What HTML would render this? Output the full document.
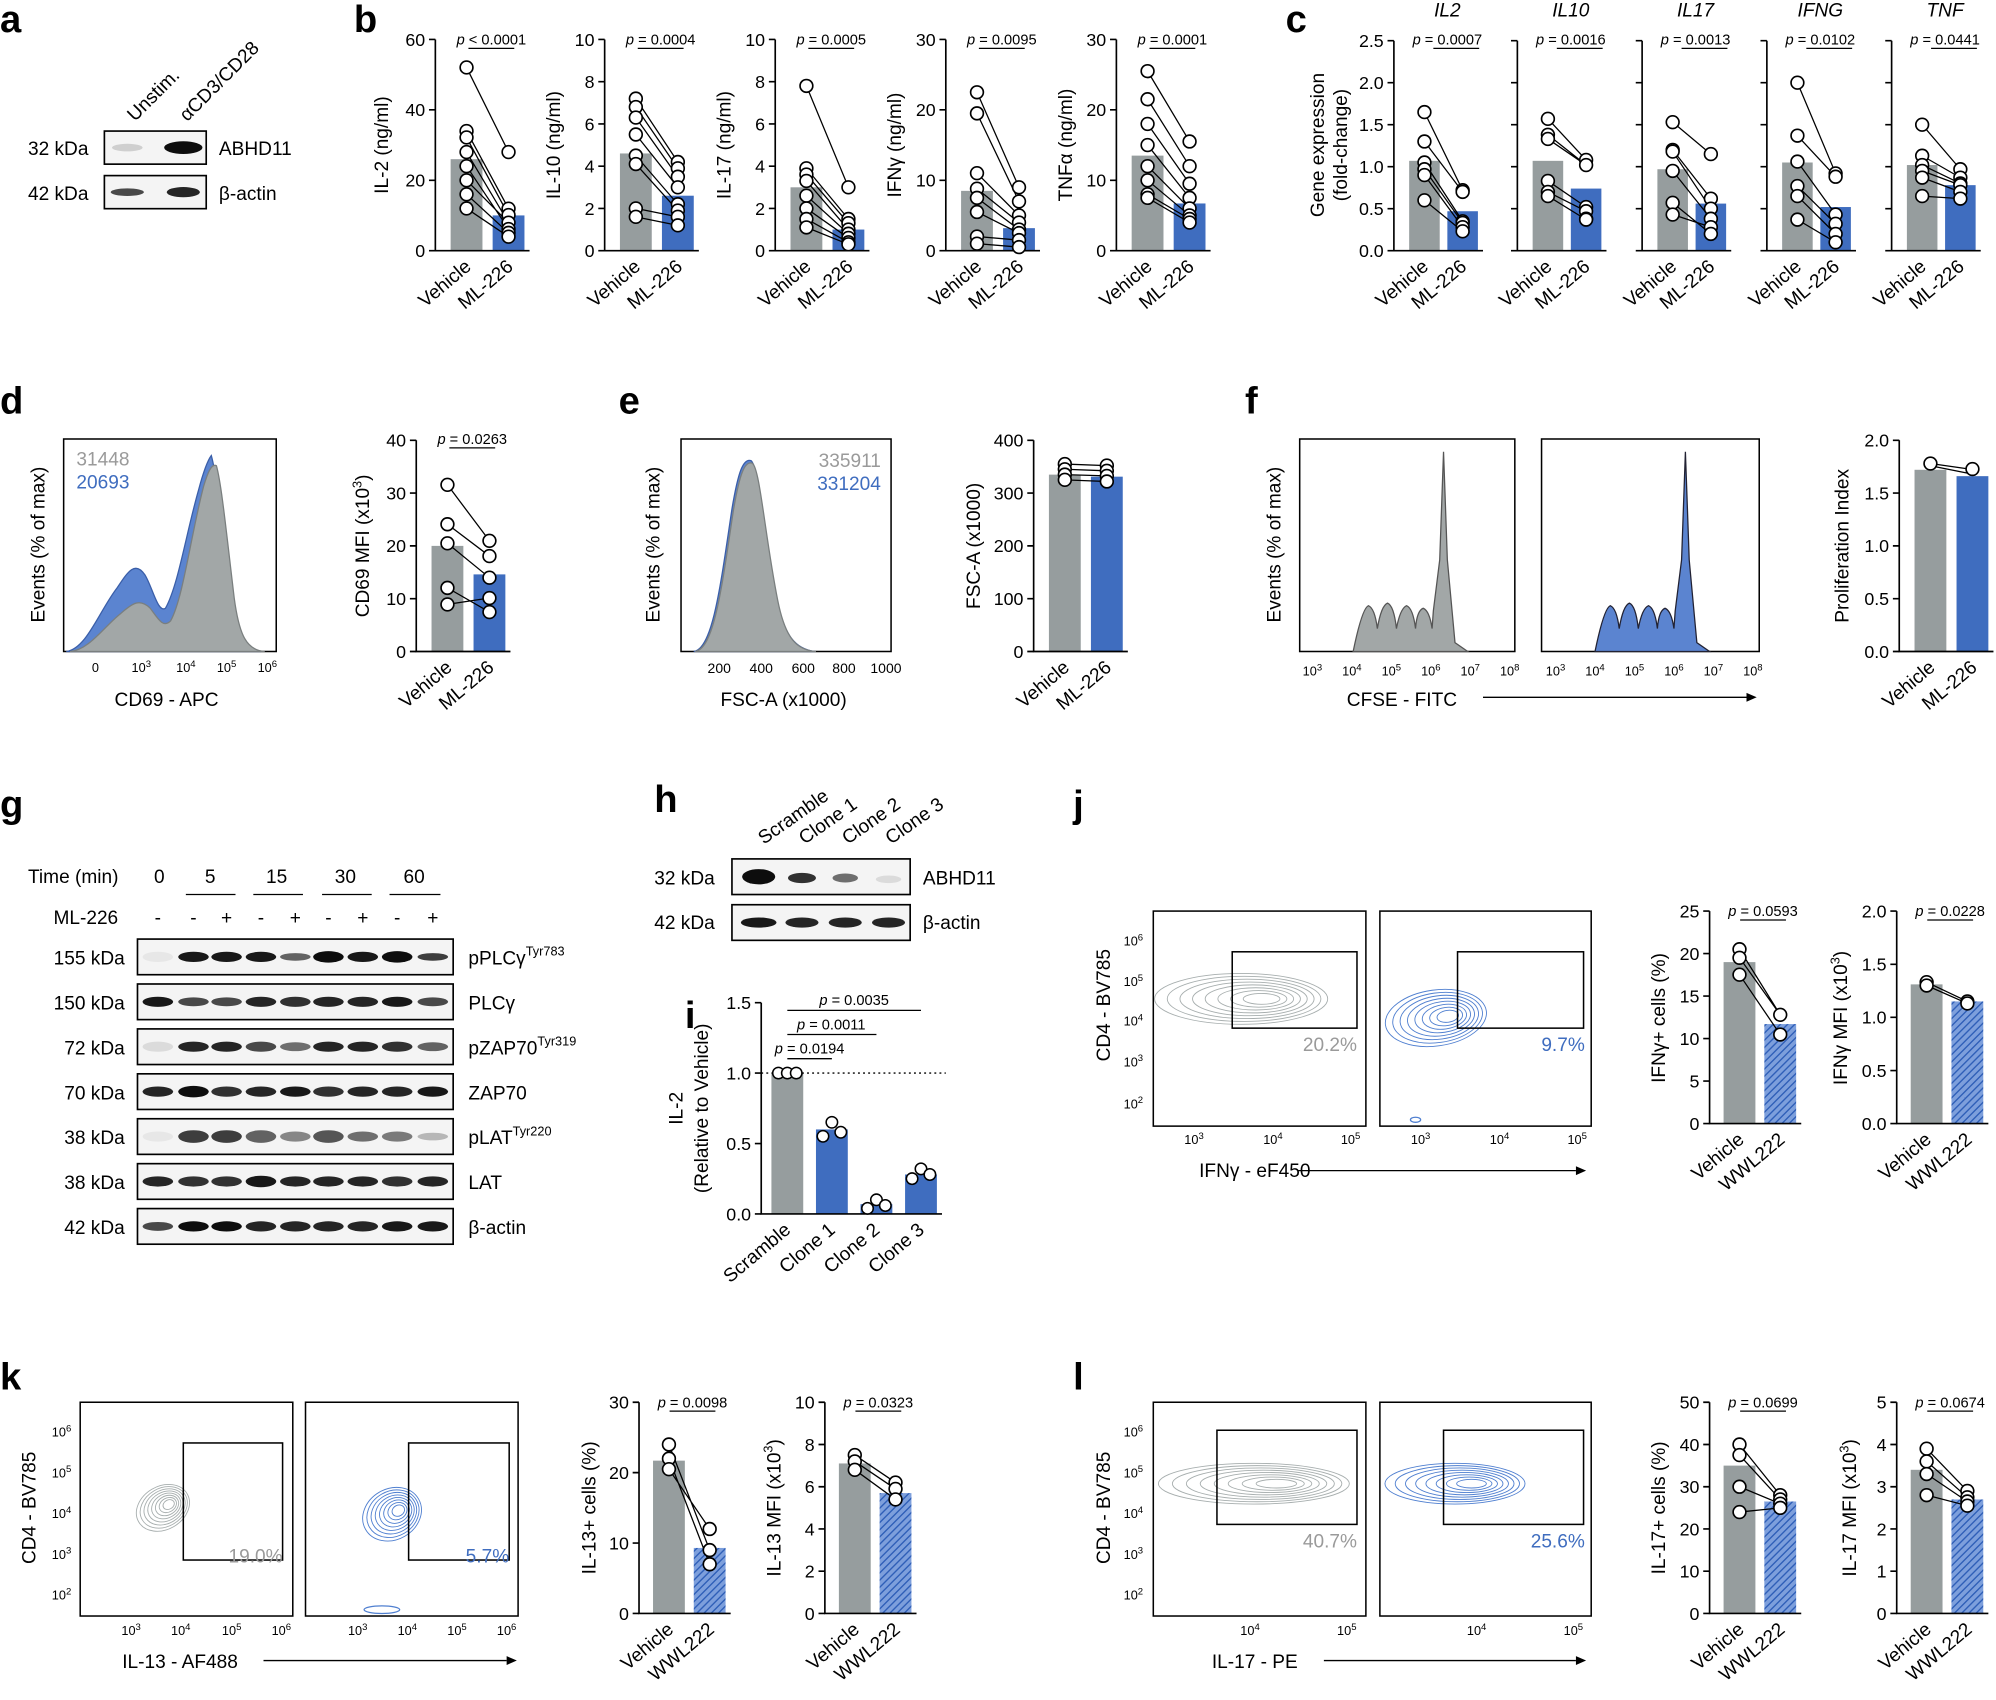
<!DOCTYPE html>
<html><head><meta charset="utf-8"><style>
html,body{margin:0;padding:0;background:#fff;}
svg{display:block;font-family:"Liberation Sans",Arial,sans-serif;font-size:15px;}
.ax{fill:none;stroke:#000;stroke-width:1.3}
.ln{fill:none;stroke:#000;stroke-width:1}
.pt{fill:#fff;stroke:#000;stroke-width:1.3}
.g{fill:#969d9e}.b{fill:#3f6dbf}.h{fill:url(#hatch)}
.tl{font-size:14px;text-anchor:end}
.pv{font-size:11.5px;text-anchor:middle}
.xl{text-anchor:end}
.bx{fill:none;stroke:#000;stroke-width:1.2}
.sm{font-size:10px;text-anchor:middle}
.sup{font-size:7.5px}
.ct ellipse{fill:none;stroke-width:0.9;vector-effect:non-scaling-stroke}
</style></head><body>
<svg xmlns="http://www.w3.org/2000/svg" xmlns:xlink="http://www.w3.org/1999/xlink" width="1996" height="1700" viewBox="0 0 1568 1336" preserveAspectRatio="none">
<defs>
<pattern id="hatch" patternUnits="userSpaceOnUse" width="4" height="4" patternTransform="rotate(45)">
<rect width="4" height="4" fill="#7d9fdc"/><line x1="0" y1="0" x2="0" y2="4" stroke="#2f5fb8" stroke-width="2.2"/>
</pattern>
<g id="ct" class="ct">
<ellipse cx="0" cy="0" rx="1" ry="1"/><ellipse cx="0.034" cy="0" rx="0.8875" ry="0.8875"/><ellipse cx="0.068" cy="0" rx="0.775" ry="0.775"/><ellipse cx="0.101" cy="0" rx="0.6625" ry="0.6625"/><ellipse cx="0.135" cy="0" rx="0.55" ry="0.55"/><ellipse cx="0.169" cy="0" rx="0.4375" ry="0.4375"/><ellipse cx="0.203" cy="0" rx="0.325" ry="0.325"/><ellipse cx="0.236" cy="0" rx="0.2125" ry="0.2125"/>
</g>
</defs>
<g font-weight="bold" font-size="30">
<text x="0" y="25">a</text><text x="278" y="25">b</text><text x="1010" y="25">c</text>
<text x="0" y="325">d</text><text x="486" y="325">e</text><text x="978" y="325">f</text>
<text x="0" y="642">g</text><text x="514" y="638">h</text><text x="538" y="808">i</text>
<text x="843" y="642">j</text><text x="0" y="1092">k</text><text x="843" y="1092">l</text>
</g>

<!-- ===== a ===== -->
<text x="22" y="122">32 kDa</text><text x="22" y="157">42 kDa</text>
<text x="172" y="122">ABHD11</text><text x="172" y="157">β-actin</text>
<text x="106" y="96" transform="rotate(-45 106 96)">Unstim.</text>
<text x="147" y="96" transform="rotate(-45 147 96)">αCD3/CD28</text>
<rect x="82" y="103" width="80" height="26" fill="#f4f4f4" stroke="#000" stroke-width="1.3"/>
<ellipse cx="100" cy="116" rx="12" ry="3" fill="#000" fill-opacity="0.15"/><ellipse cx="144" cy="116" rx="15" ry="5" fill="#000" fill-opacity="0.95"/>
<rect x="82" y="138" width="80" height="26" fill="#f4f4f4" stroke="#000" stroke-width="1.3"/>
<ellipse cx="100" cy="151" rx="13" ry="3" fill="#000" fill-opacity="0.7"/><ellipse cx="144" cy="151" rx="13" ry="4" fill="#000" fill-opacity="0.85"/>

<!-- ===== b ===== -->
<g transform="translate(342,0)">
<path class="ax" d="M-5,197H0M-5,141.7H0M-5,86.3H0M-5,31H0"/>
<text class="tl" x="-8" y="202">0</text><text class="tl" x="-8" y="146.7">20</text><text class="tl" x="-8" y="91.3">40</text><text class="tl" x="-8" y="36">60</text>
<rect class="g" x="12" y="125.1" width="25" height="71.9"/><rect class="b" x="45" y="169.3" width="25" height="27.7"/>
<path class="ax" d="M0,31V197H74"/>
<path class="ln" d="M24.5,53L57.5,119.5M24.5,103L57.5,164M24.5,108L57.5,169M24.5,119.5L57.5,175M24.5,130.6L57.5,180M24.5,141.7L57.5,175M24.5,152.7L57.5,183M24.5,163.8L57.5,186"/>
<g class="pt"><circle cx="24.5" cy="53" r="5"/><circle cx="24.5" cy="103" r="5"/><circle cx="24.5" cy="108" r="5"/><circle cx="24.5" cy="119.5" r="5"/><circle cx="24.5" cy="130.6" r="5"/><circle cx="24.5" cy="141.7" r="5"/><circle cx="24.5" cy="152.7" r="5"/><circle cx="24.5" cy="163.8" r="5"/>
<circle cx="57.5" cy="119.5" r="5"/><circle cx="57.5" cy="164" r="5"/><circle cx="57.5" cy="169" r="5"/><circle cx="57.5" cy="175" r="5"/><circle cx="57.5" cy="180" r="5"/><circle cx="57.5" cy="183" r="5"/><circle cx="57.5" cy="186" r="5"/></g>
<text x="-37" y="114" text-anchor="middle" transform="rotate(-90 -37 114)">IL-2 (ng/ml)</text>
<text class="pv" x="44" y="35"><tspan font-style="italic">p</tspan> &lt; 0.0001</text><path class="ln" d="M26,38H62"/>
<text class="xl" x="29" y="211" transform="rotate(-40 29 211)">Vehicle</text><text class="xl" x="62" y="211" transform="rotate(-40 62 211)">ML-226</text>
</g>

<g transform="translate(475,0)">
<path class="ax" d="M-5,197H0M-5,163.8H0M-5,130.6H0M-5,97.4H0M-5,64.2H0M-5,31H0"/>
<text class="tl" x="-8" y="202">0</text><text class="tl" x="-8" y="168.8">2</text><text class="tl" x="-8" y="135.6">4</text><text class="tl" x="-8" y="102.4">6</text><text class="tl" x="-8" y="69.2">8</text><text class="tl" x="-8" y="36">10</text>
<rect class="g" x="12" y="120.6" width="25" height="76.4"/><rect class="b" x="45" y="153.8" width="25" height="43.2"/>
<path class="ax" d="M0,31V197H74"/>
<path class="ln" d="M24.5,77.5L57.5,127.3M24.5,84.1L57.5,132.3M24.5,92.4L57.5,138.9M24.5,105.7L57.5,147.2M24.5,122.3L57.5,160.5M24.5,128.9L57.5,165.5M24.5,163.8L57.5,170.4M24.5,170.4L57.5,177.1"/>
<g class="pt"><circle cx="24.5" cy="77.5" r="5"/><circle cx="24.5" cy="84.1" r="5"/><circle cx="24.5" cy="92.4" r="5"/><circle cx="24.5" cy="105.7" r="5"/><circle cx="24.5" cy="122.3" r="5"/><circle cx="24.5" cy="128.9" r="5"/><circle cx="24.5" cy="163.8" r="5"/><circle cx="24.5" cy="170.4" r="5"/>
<circle cx="57.5" cy="127.3" r="5"/><circle cx="57.5" cy="132.3" r="5"/><circle cx="57.5" cy="138.9" r="5"/><circle cx="57.5" cy="147.2" r="5"/><circle cx="57.5" cy="160.5" r="5"/><circle cx="57.5" cy="165.5" r="5"/><circle cx="57.5" cy="170.4" r="5"/><circle cx="57.5" cy="177.1" r="5"/></g>
<text x="-35" y="114" text-anchor="middle" transform="rotate(-90 -35 114)">IL-10 (ng/ml)</text>
<text class="pv" x="44" y="35"><tspan font-style="italic">p</tspan> = 0.0004</text><path class="ln" d="M26,38H62"/>
<text class="xl" x="29" y="211" transform="rotate(-40 29 211)">Vehicle</text><text class="xl" x="62" y="211" transform="rotate(-40 62 211)">ML-226</text>
</g>

<g transform="translate(609,0)">
<path class="ax" d="M-5,197H0M-5,163.8H0M-5,130.6H0M-5,97.4H0M-5,64.2H0M-5,31H0"/>
<text class="tl" x="-8" y="202">0</text><text class="tl" x="-8" y="168.8">2</text><text class="tl" x="-8" y="135.6">4</text><text class="tl" x="-8" y="102.4">6</text><text class="tl" x="-8" y="69.2">8</text><text class="tl" x="-8" y="36">10</text>
<rect class="g" x="12" y="147.2" width="25" height="49.8"/><rect class="b" x="45" y="180.4" width="25" height="16.6"/>
<path class="ax" d="M0,31V197H74"/>
<path class="ln" d="M24.5,67.5L57.5,147.2M24.5,132.3L57.5,172.1M24.5,137.2L57.5,175.4M24.5,142.2L57.5,180.4M24.5,153.8L57.5,183.7M24.5,163.8L57.5,187M24.5,172.1L57.5,190.4M24.5,178.7L57.5,192"/>
<g class="pt"><circle cx="24.5" cy="67.5" r="5"/><circle cx="24.5" cy="132.3" r="5"/><circle cx="24.5" cy="137.2" r="5"/><circle cx="24.5" cy="142.2" r="5"/><circle cx="24.5" cy="153.8" r="5"/><circle cx="24.5" cy="163.8" r="5"/><circle cx="24.5" cy="172.1" r="5"/><circle cx="24.5" cy="178.7" r="5"/>
<circle cx="57.5" cy="147.2" r="5"/><circle cx="57.5" cy="172.1" r="5"/><circle cx="57.5" cy="175.4" r="5"/><circle cx="57.5" cy="180.4" r="5"/><circle cx="57.5" cy="183.7" r="5"/><circle cx="57.5" cy="187" r="5"/><circle cx="57.5" cy="190.4" r="5"/><circle cx="57.5" cy="192" r="5"/></g>
<text x="-35" y="114" text-anchor="middle" transform="rotate(-90 -35 114)">IL-17 (ng/ml)</text>
<text class="pv" x="44" y="35"><tspan font-style="italic">p</tspan> = 0.0005</text><path class="ln" d="M26,38H62"/>
<text class="xl" x="29" y="211" transform="rotate(-40 29 211)">Vehicle</text><text class="xl" x="62" y="211" transform="rotate(-40 62 211)">ML-226</text>
</g>

<g transform="translate(743,0)">
<path class="ax" d="M-5,197H0M-5,141.7H0M-5,86.3H0M-5,31H0"/>
<text class="tl" x="-8" y="202">0</text><text class="tl" x="-8" y="146.7">10</text><text class="tl" x="-8" y="91.3">20</text><text class="tl" x="-8" y="36">30</text>
<rect class="g" x="12" y="150" width="25" height="47"/><rect class="b" x="45" y="179.3" width="25" height="17.7"/>
<path class="ax" d="M0,31V197H74"/>
<path class="ln" d="M24.5,72.5L57.5,147.2M24.5,89.1L57.5,158.3M24.5,136.1L57.5,169.3M24.5,148.3L57.5,174.9M24.5,155.5L57.5,180.4M24.5,166.6L57.5,183.2M24.5,185.9L57.5,188.7M24.5,191.5L57.5,194.2"/>
<g class="pt"><circle cx="24.5" cy="72.5" r="5"/><circle cx="24.5" cy="89.1" r="5"/><circle cx="24.5" cy="136.1" r="5"/><circle cx="24.5" cy="148.3" r="5"/><circle cx="24.5" cy="155.5" r="5"/><circle cx="24.5" cy="166.6" r="5"/><circle cx="24.5" cy="185.9" r="5"/><circle cx="24.5" cy="191.5" r="5"/>
<circle cx="57.5" cy="147.2" r="5"/><circle cx="57.5" cy="158.3" r="5"/><circle cx="57.5" cy="169.3" r="5"/><circle cx="57.5" cy="174.9" r="5"/><circle cx="57.5" cy="180.4" r="5"/><circle cx="57.5" cy="183.2" r="5"/><circle cx="57.5" cy="188.7" r="5"/><circle cx="57.5" cy="194.2" r="5"/></g>
<text x="-35" y="114" text-anchor="middle" transform="rotate(-90 -35 114)">IFNγ (ng/ml)</text>
<text class="pv" x="44" y="35"><tspan font-style="italic">p</tspan> = 0.0095</text><path class="ln" d="M26,38H62"/>
<text class="xl" x="29" y="211" transform="rotate(-40 29 211)">Vehicle</text><text class="xl" x="62" y="211" transform="rotate(-40 62 211)">ML-226</text>
</g>

<g transform="translate(877,0)">
<path class="ax" d="M-5,197H0M-5,141.7H0M-5,86.3H0M-5,31H0"/>
<text class="tl" x="-8" y="202">0</text><text class="tl" x="-8" y="146.7">10</text><text class="tl" x="-8" y="91.3">20</text><text class="tl" x="-8" y="36">30</text>
<rect class="g" x="12" y="122.3" width="25" height="74.7"/><rect class="b" x="45" y="159.9" width="25" height="37.1"/>
<path class="ax" d="M0,31V197H74"/>
<path class="ln" d="M24.5,55.9L57.5,111.2M24.5,78L57.5,130.6M24.5,97.4L57.5,144.4M24.5,114L57.5,155.5M24.5,130.6L57.5,163.8M24.5,141.7L57.5,169.3M24.5,152.7L57.5,172.1M24.5,155.5L57.5,174.9"/>
<g class="pt"><circle cx="24.5" cy="55.9" r="5"/><circle cx="24.5" cy="78" r="5"/><circle cx="24.5" cy="97.4" r="5"/><circle cx="24.5" cy="114" r="5"/><circle cx="24.5" cy="130.6" r="5"/><circle cx="24.5" cy="141.7" r="5"/><circle cx="24.5" cy="152.7" r="5"/><circle cx="24.5" cy="155.5" r="5"/>
<circle cx="57.5" cy="111.2" r="5"/><circle cx="57.5" cy="130.6" r="5"/><circle cx="57.5" cy="144.4" r="5"/><circle cx="57.5" cy="155.5" r="5"/><circle cx="57.5" cy="163.8" r="5"/><circle cx="57.5" cy="169.3" r="5"/><circle cx="57.5" cy="172.1" r="5"/><circle cx="57.5" cy="174.9" r="5"/></g>
<text x="-35" y="114" text-anchor="middle" transform="rotate(-90 -35 114)">TNFα (ng/ml)</text>
<text class="pv" x="44" y="35"><tspan font-style="italic">p</tspan> = 0.0001</text><path class="ln" d="M26,38H62"/>
<text class="xl" x="29" y="211" transform="rotate(-40 29 211)">Vehicle</text><text class="xl" x="62" y="211" transform="rotate(-40 62 211)">ML-226</text>
</g>

<!-- ===== c ===== -->
<g transform="translate(1095,0)">
<text class="tl" x="-8" y="202">0.0</text><text class="tl" x="-8" y="169">0.5</text><text class="tl" x="-8" y="136">1.0</text><text class="tl" x="-8" y="103">1.5</text><text class="tl" x="-8" y="70">2.0</text><text class="tl" x="-8" y="37">2.5</text>
<text x="-55" y="114" text-anchor="middle" transform="rotate(-90 -55 114)">Gene expression</text>
<text x="-37" y="114" text-anchor="middle" transform="rotate(-90 -37 114)">(fold-change)</text>
<rect class="g" x="12" y="126.4" width="24" height="70.6"/><rect class="b" x="42" y="166" width="24" height="31"/>
<path class="ln" d="M24,88.1L54,149.5M24,111.2L54,150.8M24,127.7L54,173.9M24,133L54,175.2M24,137.6L54,178.5M24,157.4L54,181.8"/>
<g class="pt"><circle cx="24" cy="88.1" r="5"/><circle cx="24" cy="111.2" r="5"/><circle cx="24" cy="127.7" r="5"/><circle cx="24" cy="133" r="5"/><circle cx="24" cy="137.6" r="5"/><circle cx="24" cy="157.4" r="5"/><circle cx="54" cy="149.5" r="5"/><circle cx="54" cy="150.8" r="5"/><circle cx="54" cy="173.9" r="5"/><circle cx="54" cy="175.2" r="5"/><circle cx="54" cy="178.5" r="5"/><circle cx="54" cy="181.8" r="5"/></g>
<text x="42" y="13" text-anchor="middle" font-style="italic">IL2</text>
<text class="pv" x="42" y="35"><tspan font-style="italic">p</tspan> = 0.0007</text>
</g>
<g transform="translate(1192,0)">
<rect class="g" x="12" y="126.4" width="24" height="70.6"/><rect class="b" x="42" y="148.2" width="24" height="48.8"/>
<path class="ln" d="M24,93.4L54,125.7M24,105.9L54,129.7M24,109.2L54,129.7M24,142.2L54,162.7M24,150.8L54,166M24,154.1L54,172.6"/>
<g class="pt"><circle cx="24" cy="93.4" r="5"/><circle cx="24" cy="105.9" r="5"/><circle cx="24" cy="109.2" r="5"/><circle cx="24" cy="142.2" r="5"/><circle cx="24" cy="150.8" r="5"/><circle cx="24" cy="154.1" r="5"/><circle cx="54" cy="125.7" r="5"/><circle cx="54" cy="129.7" r="5"/><circle cx="54" cy="162.7" r="5"/><circle cx="54" cy="166" r="5"/><circle cx="54" cy="171.9" r="5"/><circle cx="54" cy="172.6" r="5"/></g>
<text x="42" y="13" text-anchor="middle" font-style="italic">IL10</text>
<text class="pv" x="42" y="35"><tspan font-style="italic">p</tspan> = 0.0016</text>
</g>
<g transform="translate(1290,0)">
<rect class="g" x="12" y="133" width="24" height="64"/><rect class="b" x="42" y="160" width="24" height="37"/>
<path class="ln" d="M24,96L54,121.1M24,117.8L54,156.1M24,119.1L54,164M24,134.3L54,171.9M24,159.4L54,183.8M24,168.6L54,178.5"/>
<g class="pt"><circle cx="24" cy="96" r="5"/><circle cx="24" cy="117.8" r="5"/><circle cx="24" cy="119.1" r="5"/><circle cx="24" cy="134.3" r="5"/><circle cx="24" cy="159.4" r="5"/><circle cx="24" cy="168.6" r="5"/><circle cx="54" cy="121.1" r="5"/><circle cx="54" cy="156.1" r="5"/><circle cx="54" cy="164" r="5"/><circle cx="54" cy="171.9" r="5"/><circle cx="54" cy="178.5" r="5"/><circle cx="54" cy="183.8" r="5"/></g>
<text x="42" y="13" text-anchor="middle" font-style="italic">IL17</text>
<text class="pv" x="42" y="35"><tspan font-style="italic">p</tspan> = 0.0013</text>
</g>
<g transform="translate(1388,0)">
<rect class="g" x="12" y="127.7" width="24" height="69.3"/><rect class="b" x="42" y="162.7" width="24" height="34.3"/>
<path class="ln" d="M24,65L54,136.3M24,106.6L54,138.9M24,127L54,168.6M24,146.2L54,175.9M24,154.1L54,183.8M24,172.6L54,190.4"/>
<g class="pt"><circle cx="24" cy="65" r="5"/><circle cx="24" cy="106.6" r="5"/><circle cx="24" cy="127" r="5"/><circle cx="24" cy="146.2" r="5"/><circle cx="24" cy="154.1" r="5"/><circle cx="24" cy="172.6" r="5"/><circle cx="54" cy="136.3" r="5"/><circle cx="54" cy="138.9" r="5"/><circle cx="54" cy="168.6" r="5"/><circle cx="54" cy="175.9" r="5"/><circle cx="54" cy="183.8" r="5"/><circle cx="54" cy="190.4" r="5"/></g>
<text x="42" y="13" text-anchor="middle" font-style="italic">IFNG</text>
<text class="pv" x="42" y="35"><tspan font-style="italic">p</tspan> = 0.0102</text>
</g>
<g transform="translate(1486,0)">
<rect class="g" x="12" y="129.7" width="24" height="67.3"/><rect class="b" x="42" y="145.5" width="24" height="51.5"/>
<path class="ln" d="M24,98L54,133M24,122.4L54,139.6M24,129.7L54,144.2M24,134.3L54,145.5M24,139.6L54,150.8M24,154.1L54,156.1"/>
<g class="pt"><circle cx="24" cy="98" r="5"/><circle cx="24" cy="122.4" r="5"/><circle cx="24" cy="129.7" r="5"/><circle cx="24" cy="134.3" r="5"/><circle cx="24" cy="139.6" r="5"/><circle cx="24" cy="154.1" r="5"/><circle cx="54" cy="133" r="5"/><circle cx="54" cy="139.6" r="5"/><circle cx="54" cy="144.2" r="5"/><circle cx="54" cy="145.5" r="5"/><circle cx="54" cy="150.8" r="5"/><circle cx="54" cy="156.1" r="5"/></g>
<text x="42" y="13" text-anchor="middle" font-style="italic">TNF</text>
<text class="pv" x="42" y="35"><tspan font-style="italic">p</tspan> = 0.0441</text>
</g>
<!-- c axes, underlines, labels -->
<g>
<path class="ax" d="M1090,197H1095M1090,164H1095M1090,131H1095M1090,98H1095M1090,65H1095M1090,32H1095M1095,32V197H1165"/>
<path class="ax" d="M1187,197H1192M1187,164H1192M1187,131H1192M1187,98H1192M1187,65H1192M1187,32H1192M1192,32V197H1262"/>
<path class="ax" d="M1285,197H1290M1285,164H1290M1285,131H1290M1285,98H1290M1285,65H1290M1285,32H1290M1290,32V197H1360"/>
<path class="ax" d="M1383,197H1388M1383,164H1388M1383,131H1388M1383,98H1388M1383,65H1388M1383,32H1388M1388,32V197H1458"/>
<path class="ax" d="M1481,197H1486M1481,164H1486M1481,131H1486M1481,98H1486M1481,65H1486M1481,32H1486M1486,32V197H1556"/>
<path class="ln" d="M1126,38H1162M1223,38H1259M1321,38H1357M1419,38H1455M1517,38H1553"/>
<text class="xl" x="1123" y="211" transform="rotate(-40 1123 211)">Vehicle</text><text class="xl" x="1153" y="211" transform="rotate(-40 1153 211)">ML-226</text>
<text class="xl" x="1220" y="211" transform="rotate(-40 1220 211)">Vehicle</text><text class="xl" x="1250" y="211" transform="rotate(-40 1250 211)">ML-226</text>
<text class="xl" x="1318" y="211" transform="rotate(-40 1318 211)">Vehicle</text><text class="xl" x="1348" y="211" transform="rotate(-40 1348 211)">ML-226</text>
<text class="xl" x="1416" y="211" transform="rotate(-40 1416 211)">Vehicle</text><text class="xl" x="1446" y="211" transform="rotate(-40 1446 211)">ML-226</text>
<text class="xl" x="1514" y="211" transform="rotate(-40 1514 211)">Vehicle</text><text class="xl" x="1544" y="211" transform="rotate(-40 1544 211)">ML-226</text>
</g>

<!-- ===== d ===== -->
<rect class="bx" x="50" y="345" width="167" height="167"/>
<path d="M52,512 C68,510 78,480 92,462 C100,450 106,440 114,452 C120,462 124,482 130,478 C140,460 146,420 156,385 C160,370 163,362 166,358 C170,372 176,420 182,470 C186,500 192,510 205,512 Z" fill="#5b84d0" stroke="#3a5ea8"/>
<path d="M55,512 C70,511 82,492 95,482 C104,474 110,470 118,478 C124,486 128,494 134,488 C144,470 150,420 160,382 C163,372 166,364 170,366 C174,380 178,420 184,470 C188,500 194,511 208,512 Z" fill="#a2a7a7" stroke="#7a7f7f"/>
<text x="60" y="366" fill="#9a9a9a">31448</text><text x="60" y="384" fill="#3f6dbf">20693</text>
<text x="35" y="428" text-anchor="middle" transform="rotate(-90 35 428)">Events (% of max)</text>
<text class="sm" x="75" y="528">0</text>
<text class="sm" x="111" y="528">10<tspan class="sup" dy="-4">3</tspan></text><text class="sm" x="146" y="528">10<tspan class="sup" dy="-4">4</tspan></text><text class="sm" x="178" y="528">10<tspan class="sup" dy="-4">5</tspan></text><text class="sm" x="210" y="528">10<tspan class="sup" dy="-4">6</tspan></text>
<text x="90" y="555">CD69 - APC</text>

<g transform="translate(327,0)">
<path class="ax" d="M-5,512H0M-5,470.5H0M-5,429H0M-5,387.5H0M-5,346H0"/>
<text class="tl" x="-8" y="517">0</text><text class="tl" x="-8" y="475.5">10</text><text class="tl" x="-8" y="434">20</text><text class="tl" x="-8" y="392.5">30</text><text class="tl" x="-8" y="351">40</text>
<rect class="g" x="12" y="429" width="25" height="83"/><rect class="b" x="45" y="451.4" width="25" height="60.6"/>
<path class="ax" d="M0,346V512H74"/>
<path class="ln" d="M24.5,381L57.5,425M24.5,412L57.5,437M24.5,427L57.5,454M24.5,462L57.5,481M24.5,475L57.5,470"/>
<g class="pt"><circle cx="24.5" cy="381" r="5"/><circle cx="24.5" cy="412" r="5"/><circle cx="24.5" cy="427" r="5"/><circle cx="24.5" cy="462" r="5"/><circle cx="24.5" cy="475" r="5"/><circle cx="57.5" cy="425" r="5"/><circle cx="57.5" cy="437" r="5"/><circle cx="57.5" cy="454" r="5"/><circle cx="57.5" cy="481" r="5"/><circle cx="57.5" cy="470" r="5"/></g>
<text x="-37" y="429" text-anchor="middle" transform="rotate(-90 -37 429)">CD69 MFI (x10<tspan font-size="10" dy="-6">3</tspan><tspan dy="6">)</tspan></text>
<text class="pv" x="44" y="349"><tspan font-style="italic">p</tspan> = 0.0263</text><path class="ln" d="M26,352H62"/>
<text class="xl" x="29" y="526" transform="rotate(-40 29 526)">Vehicle</text><text class="xl" x="62" y="526" transform="rotate(-40 62 526)">ML-226</text>
</g>

<!-- ===== e ===== -->
<rect class="bx" x="535" y="345" width="165" height="167"/>
<path d="M545,512 C560,510 566,460 575,400 C580,370 584,360 590,362 C596,366 600,420 610,470 C616,500 625,510 640,512 Z" fill="#5b84d0" stroke="#3a5ea8"/>
<path d="M546,512 C561,510 567,462 576,402 C581,372 585,362 591,364 C597,368 601,422 611,472 C617,502 626,511 641,512 Z" fill="#a2a7a7" stroke="#7a7f7f"/>
<text x="692" y="367" fill="#9a9a9a" text-anchor="end">335911</text><text x="692" y="385" fill="#3f6dbf" text-anchor="end">331204</text>
<text x="518" y="428" text-anchor="middle" transform="rotate(-90 518 428)">Events (% of max)</text>
<g font-size="11" text-anchor="middle"><text x="565" y="529">200</text><text x="598" y="529">400</text><text x="631" y="529">600</text><text x="663" y="529">800</text><text x="696" y="529">1000</text></g>
<text x="566" y="555">FSC-A (x1000)</text>

<g transform="translate(812,0)">
<path class="ax" d="M-5,512H0M-5,470.5H0M-5,429H0M-5,387.5H0M-5,346H0"/>
<text class="tl" x="-8" y="517">0</text><text class="tl" x="-8" y="475.5">100</text><text class="tl" x="-8" y="434">200</text><text class="tl" x="-8" y="392.5">300</text><text class="tl" x="-8" y="351">400</text>
<rect class="g" x="12" y="373" width="25" height="139"/><rect class="b" x="45" y="374.6" width="25" height="137.4"/>
<path class="ax" d="M0,346V512H74"/>
<path class="ln" d="M24.5,364.7L57.5,365.9M24.5,368.8L57.5,370M24.5,373L57.5,374M24.5,377.1L57.5,378.4"/>
<g class="pt"><circle cx="24.5" cy="364.7" r="5"/><circle cx="24.5" cy="368.8" r="5"/><circle cx="24.5" cy="373" r="5"/><circle cx="24.5" cy="377.1" r="5"/><circle cx="57.5" cy="365.9" r="5"/><circle cx="57.5" cy="370" r="5"/><circle cx="57.5" cy="374" r="5"/><circle cx="57.5" cy="378.4" r="5"/></g>
<text x="-42" y="429" text-anchor="middle" transform="rotate(-90 -42 429)">FSC-A (x1000)</text>
<text class="xl" x="29" y="526" transform="rotate(-40 29 526)">Vehicle</text><text class="xl" x="62" y="526" transform="rotate(-40 62 526)">ML-226</text>
</g>

<!-- ===== f ===== -->
<rect class="bx" x="1021" y="345" width="169" height="167"/><rect class="bx" x="1211" y="345" width="171" height="167"/>
<path d="M1063,512 Q1070,478 1075,476 Q1080,478 1082,494 Q1085,476 1090,474 Q1095,476 1097,494 Q1100,478 1105,476 Q1110,478 1112,494 Q1113,480 1118,478 Q1123,480 1125,494 L1126,480 L1131,440 L1134,355 L1137,440 L1143,505 L1153,512 Z" fill="#a2a7a7" stroke="#555"/>
<path d="M1253,512 Q1260,478 1265,476 Q1270,478 1272,494 Q1275,476 1280,474 Q1285,476 1287,494 Q1290,478 1295,476 Q1300,478 1302,494 Q1303,480 1308,478 Q1313,480 1315,494 L1316,480 L1321,440 L1324,355 L1327,440 L1333,505 L1343,512 Z" fill="#5b84d0" stroke="#223"/>
<text x="1006" y="428" text-anchor="middle" transform="rotate(-90 1006 428)">Events (% of max)</text>
<g class="sm">
<text x="1031" y="531">10<tspan class="sup" dy="-4">3</tspan></text><text x="1062" y="531">10<tspan class="sup" dy="-4">4</tspan></text><text x="1093" y="531">10<tspan class="sup" dy="-4">5</tspan></text><text x="1124" y="531">10<tspan class="sup" dy="-4">6</tspan></text><text x="1155" y="531">10<tspan class="sup" dy="-4">7</tspan></text><text x="1186" y="531">10<tspan class="sup" dy="-4">8</tspan></text>
<text x="1222" y="531">10<tspan class="sup" dy="-4">3</tspan></text><text x="1253" y="531">10<tspan class="sup" dy="-4">4</tspan></text><text x="1284" y="531">10<tspan class="sup" dy="-4">5</tspan></text><text x="1315" y="531">10<tspan class="sup" dy="-4">6</tspan></text><text x="1346" y="531">10<tspan class="sup" dy="-4">7</tspan></text><text x="1377" y="531">10<tspan class="sup" dy="-4">8</tspan></text>
</g>
<text x="1058" y="555">CFSE - FITC</text>
<path class="ln" d="M1165,548H1372"/><path d="M1372,544.5L1380,548L1372,551.5Z"/>

<g transform="translate(1492,0)">
<path class="ax" d="M-5,512H0M-5,470.5H0M-5,429H0M-5,387.5H0M-5,346H0"/>
<text class="tl" x="-8" y="517">0.0</text><text class="tl" x="-8" y="475.5">0.5</text><text class="tl" x="-8" y="434">1.0</text><text class="tl" x="-8" y="392.5">1.5</text><text class="tl" x="-8" y="351">2.0</text>
<rect class="g" x="12" y="369.2" width="25" height="142.8"/><rect class="b" x="45" y="374.2" width="25" height="137.8"/>
<path class="ax" d="M0,346V512H74"/>
<path class="ln" d="M24.5,364.3L57.5,369M24.5,366L57.5,372.6"/>
<g class="pt"><circle cx="24.5" cy="364.3" r="5"/><circle cx="57.5" cy="368.6" r="5"/></g>
<text x="-40" y="429" text-anchor="middle" transform="rotate(-90 -40 429)">Proliferation Index</text>
<text class="xl" x="29" y="526" transform="rotate(-40 29 526)">Vehicle</text><text class="xl" x="62" y="526" transform="rotate(-40 62 526)">ML-226</text>
</g>

<!-- ===== g ===== -->
<text x="22" y="694">Time (min)</text><text x="121" y="694">0</text><text x="161" y="694">5</text><text x="209" y="694">15</text><text x="263" y="694">30</text><text x="317" y="694">60</text>
<path class="ln" d="M146,703H185M199,703H238M253,703H292M306,703H346"/>
<text x="42" y="726">ML-226</text>
<g text-anchor="middle"><text x="124" y="726">-</text><text x="152" y="726">-</text><text x="178" y="726">+</text><text x="205" y="726">-</text><text x="232" y="726">+</text><text x="258" y="726">-</text><text x="285" y="726">+</text><text x="312" y="726">-</text><text x="340" y="726">+</text></g>
<g fill="#f4f4f4" stroke="#000" stroke-width="1.3">
<rect x="108" y="738" width="248" height="28"/><rect x="108" y="773.3" width="248" height="28"/><rect x="108" y="808.6" width="248" height="28"/><rect x="108" y="843.9" width="248" height="28"/><rect x="108" y="879.2" width="248" height="28"/><rect x="108" y="914.5" width="248" height="28"/><rect x="108" y="949.8" width="248" height="28"/>
</g>
<g fill="#000">
<g transform="translate(0,752)"><ellipse cx="124" rx="12" ry="4" fill-opacity="0.05"/><ellipse cx="152" rx="12" ry="4" fill-opacity="0.9"/><ellipse cx="178" rx="12" ry="4" fill-opacity="0.9"/><ellipse cx="205" rx="12" ry="4" fill-opacity="0.9"/><ellipse cx="232" rx="12" ry="3" fill-opacity="0.6"/><ellipse cx="258" rx="12" ry="4.5" fill-opacity="0.95"/><ellipse cx="285" rx="12" ry="4" fill-opacity="0.9"/><ellipse cx="312" rx="12" ry="4.5" fill-opacity="0.95"/><ellipse cx="340" rx="12" ry="3" fill-opacity="0.75"/></g>
<g transform="translate(0,787.3)"><ellipse cx="124" rx="12" ry="4" fill-opacity="0.9"/><ellipse cx="152" rx="12" ry="3.5" fill-opacity="0.7"/><ellipse cx="178" rx="12" ry="3.5" fill-opacity="0.7"/><ellipse cx="205" rx="12" ry="4" fill-opacity="0.85"/><ellipse cx="232" rx="12" ry="4" fill-opacity="0.8"/><ellipse cx="258" rx="12" ry="4" fill-opacity="0.85"/><ellipse cx="285" rx="12" ry="4" fill-opacity="0.85"/><ellipse cx="312" rx="12" ry="4" fill-opacity="0.9"/><ellipse cx="340" rx="12" ry="3.5" fill-opacity="0.7"/></g>
<g transform="translate(0,822.6)"><ellipse cx="124" rx="12" ry="4" fill-opacity="0.1"/><ellipse cx="152" rx="12" ry="4" fill-opacity="0.85"/><ellipse cx="178" rx="12" ry="4" fill-opacity="0.85"/><ellipse cx="205" rx="12" ry="4" fill-opacity="0.7"/><ellipse cx="232" rx="12" ry="3.5" fill-opacity="0.55"/><ellipse cx="258" rx="12" ry="4" fill-opacity="0.85"/><ellipse cx="285" rx="12" ry="4" fill-opacity="0.85"/><ellipse cx="312" rx="12" ry="4" fill-opacity="0.8"/><ellipse cx="340" rx="12" ry="3.5" fill-opacity="0.6"/></g>
<g transform="translate(0,857.9)"><ellipse cx="124" rx="12" ry="4" fill-opacity="0.85"/><ellipse cx="152" rx="12" ry="4.5" fill-opacity="0.95"/><ellipse cx="178" rx="12" ry="4" fill-opacity="0.8"/><ellipse cx="205" rx="12" ry="4" fill-opacity="0.85"/><ellipse cx="232" rx="12" ry="4" fill-opacity="0.9"/><ellipse cx="258" rx="12" ry="4" fill-opacity="0.8"/><ellipse cx="285" rx="12" ry="4" fill-opacity="0.85"/><ellipse cx="312" rx="12" ry="4" fill-opacity="0.85"/><ellipse cx="340" rx="12" ry="4" fill-opacity="0.9"/></g>
<g transform="translate(0,893.2)"><ellipse cx="124" rx="12" ry="4" fill-opacity="0.05"/><ellipse cx="152" rx="12" ry="5" fill-opacity="0.75"/><ellipse cx="178" rx="12" ry="5" fill-opacity="0.75"/><ellipse cx="205" rx="12" ry="5" fill-opacity="0.6"/><ellipse cx="232" rx="12" ry="4" fill-opacity="0.45"/><ellipse cx="258" rx="12" ry="5" fill-opacity="0.65"/><ellipse cx="285" rx="12" ry="4" fill-opacity="0.55"/><ellipse cx="312" rx="12" ry="4" fill-opacity="0.5"/><ellipse cx="340" rx="12" ry="3" fill-opacity="0.25"/></g>
<g transform="translate(0,928.5)"><ellipse cx="124" rx="12" ry="4" fill-opacity="0.85"/><ellipse cx="152" rx="12" ry="4" fill-opacity="0.8"/><ellipse cx="178" rx="12" ry="4" fill-opacity="0.8"/><ellipse cx="205" rx="12" ry="4.5" fill-opacity="0.9"/><ellipse cx="232" rx="12" ry="4" fill-opacity="0.85"/><ellipse cx="258" rx="12" ry="4" fill-opacity="0.85"/><ellipse cx="285" rx="12" ry="4" fill-opacity="0.85"/><ellipse cx="312" rx="12" ry="4" fill-opacity="0.8"/><ellipse cx="340" rx="12" ry="4" fill-opacity="0.85"/></g>
<g transform="translate(0,963.8)"><ellipse cx="124" rx="12" ry="3.5" fill-opacity="0.7"/><ellipse cx="152" rx="12" ry="4" fill-opacity="0.95"/><ellipse cx="178" rx="12" ry="4" fill-opacity="0.95"/><ellipse cx="205" rx="12" ry="4" fill-opacity="0.85"/><ellipse cx="232" rx="12" ry="4" fill-opacity="0.85"/><ellipse cx="258" rx="12" ry="4" fill-opacity="0.85"/><ellipse cx="285" rx="12" ry="4" fill-opacity="0.85"/><ellipse cx="312" rx="12" ry="4" fill-opacity="0.9"/><ellipse cx="340" rx="12" ry="4" fill-opacity="0.9"/></g>
</g>
<g text-anchor="end"><text x="98" y="758">155 kDa</text><text x="98" y="793.3">150 kDa</text><text x="98" y="828.6">72 kDa</text><text x="98" y="863.9">70 kDa</text><text x="98" y="899.2">38 kDa</text><text x="98" y="934.5">38 kDa</text><text x="98" y="969.8">42 kDa</text></g>
<text x="368" y="758">pPLCγ<tspan font-size="10" dy="-7">Tyr783</tspan></text>
<text x="368" y="793.3">PLCγ</text>
<text x="368" y="828.6">pZAP70<tspan font-size="10" dy="-7">Tyr319</tspan></text>
<text x="368" y="863.9">ZAP70</text>
<text x="368" y="899.2">pLAT<tspan font-size="10" dy="-7">Tyr220</tspan></text>
<text x="368" y="934.5">LAT</text>
<text x="368" y="969.8">β-actin</text>

<!-- ===== h ===== -->
<text x="600" y="664" transform="rotate(-35 600 664)">Scramble</text>
<text x="632" y="664" transform="rotate(-35 632 664)">Clone 1</text>
<text x="666" y="664" transform="rotate(-35 666 664)">Clone 2</text>
<text x="700" y="664" transform="rotate(-35 700 664)">Clone 3</text>
<text x="514" y="695">32 kDa</text><text x="514" y="730">42 kDa</text>
<text x="725" y="695">ABHD11</text><text x="725" y="730">β-actin</text>
<rect x="575" y="675" width="140" height="28" fill="#f4f4f4" stroke="#000" stroke-width="1.3"/>
<rect x="575" y="711" width="140" height="28" fill="#f4f4f4" stroke="#000" stroke-width="1.3"/>
<g fill="#000"><ellipse cx="596" cy="689" rx="13" ry="6" fill-opacity="0.95"/><ellipse cx="630" cy="690" rx="11" ry="4" fill-opacity="0.8"/><ellipse cx="664" cy="690" rx="10" ry="3.5" fill-opacity="0.55"/><ellipse cx="698" cy="691" rx="10" ry="3" fill-opacity="0.1"/>
<ellipse cx="596" cy="725" rx="14" ry="4" fill-opacity="0.9"/><ellipse cx="630" cy="725" rx="13" ry="4" fill-opacity="0.85"/><ellipse cx="664" cy="725" rx="13" ry="4" fill-opacity="0.85"/><ellipse cx="698" cy="725" rx="13" ry="4" fill-opacity="0.85"/></g>

<!-- ===== i ===== -->
<g transform="translate(598,0)">
<path class="ax" d="M-5,954H0M-5,898.7H0M-5,843.3H0M-5,788H0"/>
<text class="tl" x="-8" y="959">0.0</text><text class="tl" x="-8" y="903.7">0.5</text><text class="tl" x="-8" y="848.3">1.0</text><text class="tl" x="-8" y="793">1.5</text>
<rect class="g" x="8" y="843.3" width="25" height="110.7"/><rect class="b" x="43" y="887.6" width="25" height="66.4"/><rect class="b" x="78" y="946.3" width="25" height="7.7"/><rect class="b" x="113" y="923" width="25" height="31"/>
<path d="M0,843.3H145" stroke="#000" stroke-width="1" stroke-dasharray="1.5,2.5"/>
<path class="ax" d="M0,788V954H142"/>
<g class="pt" style="stroke-width:1.2"><circle cx="13.5" cy="843.3" r="4.5"/><circle cx="20.5" cy="843.3" r="4.5"/><circle cx="27.5" cy="843.3" r="4.5"/>
<circle cx="48.5" cy="893" r="4.5"/><circle cx="55.5" cy="882" r="4.5"/><circle cx="62.5" cy="889.8" r="4.5"/>
<circle cx="83.5" cy="949.6" r="4.5"/><circle cx="90.5" cy="942.9" r="4.5"/><circle cx="97.5" cy="947.4" r="4.5"/>
<circle cx="118.5" cy="926.3" r="4.5"/><circle cx="125.5" cy="918.6" r="4.5"/><circle cx="132.5" cy="923" r="4.5"/></g>
<text x="-62" y="871" text-anchor="middle" transform="rotate(-90 -62 871)">IL-2</text>
<text x="-42" y="871" text-anchor="middle" transform="rotate(-90 -42 871)">(Relative to Vehicle)</text>
<text class="pv" x="73" y="790"><tspan font-style="italic">p</tspan> = 0.0035</text><path class="ln" d="M20.5,794H125.5"/>
<text class="pv" x="55" y="809"><tspan font-style="italic">p</tspan> = 0.0011</text><path class="ln" d="M20.5,813H90.5"/>
<text class="pv" x="38" y="828"><tspan font-style="italic">p</tspan> = 0.0194</text><path class="ln" d="M20.5,832H55.5"/>
<text class="xl" x="24" y="968" transform="rotate(-40 24 968)">Scramble</text><text class="xl" x="59" y="968" transform="rotate(-40 59 968)">Clone 1</text><text class="xl" x="94" y="968" transform="rotate(-40 94 968)">Clone 2</text><text class="xl" x="129" y="968" transform="rotate(-40 129 968)">Clone 3</text>
</g>

<!-- ===== j flow ===== -->
<rect class="bx" x="906" y="716" width="167" height="169"/><rect class="bx" x="1084" y="716" width="166" height="169"/>
<use xlink:href="#ct" href="#ct" stroke="#a7aeae" transform="translate(975,785) scale(68,20)"/>
<use xlink:href="#ct" href="#ct" stroke="#4f7fd0" transform="translate(1128,800) rotate(-8) scale(40,22)"/>
<ellipse cx="1112" cy="880" rx="4" ry="2" fill="none" stroke="#4f7fd0"/>
<rect class="bx" x="968" y="748" width="98" height="60"/><rect class="bx" x="1145" y="748" width="99" height="60"/>
<text x="1066" y="826" fill="#9a9a9a" text-anchor="end">20.2%</text><text x="1245" y="826" fill="#3f6dbf" text-anchor="end">9.7%</text>
<g class="sm">
<text x="938" y="899">10<tspan class="sup" dy="-4">3</tspan></text><text x="1000" y="899">10<tspan class="sup" dy="-4">4</tspan></text><text x="1061" y="899">10<tspan class="sup" dy="-4">5</tspan></text>
<text x="1116" y="899">10<tspan class="sup" dy="-4">3</tspan></text><text x="1178" y="899">10<tspan class="sup" dy="-4">4</tspan></text><text x="1239" y="899">10<tspan class="sup" dy="-4">5</tspan></text>
</g>
<g font-size="10" text-anchor="end">
<text x="898" y="743">10<tspan class="sup" dy="-4">6</tspan></text><text x="898" y="775">10<tspan class="sup" dy="-4">5</tspan></text><text x="898" y="806">10<tspan class="sup" dy="-4">4</tspan></text><text x="898" y="838">10<tspan class="sup" dy="-4">3</tspan></text><text x="898" y="871">10<tspan class="sup" dy="-4">2</tspan></text>
</g>
<text x="872" y="790" text-anchor="middle" transform="rotate(-90 872 790)">CD4 - BV785</text>
<text x="942" y="925">IFNγ - eF450</text>
<path class="ln" d="M1020,920H1238"/><path d="M1238,916.5L1246,920L1238,923.5Z"/>

<!-- j bars -->
<g transform="translate(1343,0)">
<path class="ax" d="M-5,883H0M-5,849.6H0M-5,816.2H0M-5,782.8H0M-5,749.4H0M-5,716H0"/>
<text class="tl" x="-8" y="888">0</text><text class="tl" x="-8" y="854.6">5</text><text class="tl" x="-8" y="821.2">10</text><text class="tl" x="-8" y="787.8">15</text><text class="tl" x="-8" y="754.4">20</text><text class="tl" x="-8" y="721">25</text>
<rect class="g" x="11" y="756.1" width="25" height="126.9"/><rect class="h" x="43" y="804.8" width="25" height="78.2"/>
<path class="ax" d="M0,716V883H72"/>
<path class="ln" d="M23.5,746L55.5,797.5M23.5,752.7L55.5,797.5M23.5,766L55.5,813"/>
<g class="pt"><circle cx="23.5" cy="746" r="5"/><circle cx="23.5" cy="752.7" r="5"/><circle cx="23.5" cy="766" r="5"/><circle cx="55.5" cy="797.5" r="5"/><circle cx="55.5" cy="813" r="5"/></g>
<text x="-35" y="800" text-anchor="middle" transform="rotate(-90 -35 800)">IFNγ+ cells (%)</text>
<text class="pv" x="42" y="720"><tspan font-style="italic">p</tspan> = 0.0593</text><path class="ln" d="M24,723H60"/>
<text class="xl" x="28" y="897" transform="rotate(-40 28 897)">Vehicle</text><text class="xl" x="60" y="897" transform="rotate(-40 60 897)">WWL222</text>
</g>
<g transform="translate(1490,0)">
<path class="ax" d="M-5,883H0M-5,841.3H0M-5,799.5H0M-5,757.8H0M-5,716H0"/>
<text class="tl" x="-8" y="888">0.0</text><text class="tl" x="-8" y="846.3">0.5</text><text class="tl" x="-8" y="804.5">1.0</text><text class="tl" x="-8" y="762.8">1.5</text><text class="tl" x="-8" y="721">2.0</text>
<rect class="g" x="11" y="773.6" width="25" height="109.4"/><rect class="h" x="43" y="787" width="25" height="96"/>
<path class="ax" d="M0,716V883H72"/>
<path class="ln" d="M23.5,771.9L55.5,787M23.5,774.5L55.5,788.6"/>
<g class="pt"><circle cx="23.5" cy="771.9" r="5"/><circle cx="23.5" cy="774.5" r="5"/><circle cx="55.5" cy="787" r="5"/><circle cx="55.5" cy="788.6" r="5"/></g>
<text x="-39" y="800" text-anchor="middle" transform="rotate(-90 -39 800)">IFNγ MFI (x10<tspan font-size="10" dy="-6">3</tspan><tspan dy="6">)</tspan></text>
<text class="pv" x="42" y="720"><tspan font-style="italic">p</tspan> = 0.0228</text><path class="ln" d="M24,723H60"/>
<text class="xl" x="28" y="897" transform="rotate(-40 28 897)">Vehicle</text><text class="xl" x="60" y="897" transform="rotate(-40 60 897)">WWL222</text>
</g>

<!-- ===== k flow ===== -->
<rect class="bx" x="63" y="1102" width="167" height="168"/><rect class="bx" x="240" y="1102" width="167" height="168"/>
<use xlink:href="#ct" href="#ct" stroke="#a7aeae" transform="translate(128,1185) rotate(-30) scale(22,17)"/>
<use xlink:href="#ct" href="#ct" stroke="#4f7fd0" transform="translate(308,1190) rotate(-30) scale(24,20)"/>
<ellipse cx="300" cy="1265" rx="14" ry="3" fill="none" stroke="#4f7fd0"/>
<rect class="bx" x="144" y="1134" width="78" height="92"/><rect class="bx" x="321" y="1134" width="79" height="92"/>
<text x="222" y="1228" fill="#9a9a9a" text-anchor="end" dy="0">19.0%</text><text x="400" y="1228" fill="#3f6dbf" text-anchor="end">5.7%</text>
<g class="sm">
<text x="103" y="1285">10<tspan class="sup" dy="-4">3</tspan></text><text x="142" y="1285">10<tspan class="sup" dy="-4">4</tspan></text><text x="182" y="1285">10<tspan class="sup" dy="-4">5</tspan></text><text x="221" y="1285">10<tspan class="sup" dy="-4">6</tspan></text>
<text x="281" y="1285">10<tspan class="sup" dy="-4">3</tspan></text><text x="320" y="1285">10<tspan class="sup" dy="-4">4</tspan></text><text x="359" y="1285">10<tspan class="sup" dy="-4">5</tspan></text><text x="398" y="1285">10<tspan class="sup" dy="-4">6</tspan></text>
</g>
<g font-size="10" text-anchor="end">
<text x="56" y="1129">10<tspan class="sup" dy="-4">6</tspan></text><text x="56" y="1161">10<tspan class="sup" dy="-4">5</tspan></text><text x="56" y="1193">10<tspan class="sup" dy="-4">4</tspan></text><text x="56" y="1225">10<tspan class="sup" dy="-4">3</tspan></text><text x="56" y="1257">10<tspan class="sup" dy="-4">2</tspan></text>
</g>
<text x="28" y="1185" text-anchor="middle" transform="rotate(-90 28 1185)">CD4 - BV785</text>
<text x="96" y="1311">IL-13 - AF488</text>
<path class="ln" d="M207,1305H398"/><path d="M398,1301.5L406,1305L398,1308.5Z"/>

<g transform="translate(502,0)">
<path class="ax" d="M-5,1268H0M-5,1212.7H0M-5,1157.3H0M-5,1102H0"/>
<text class="tl" x="-8" y="1273">0</text><text class="tl" x="-8" y="1217.7">10</text><text class="tl" x="-8" y="1162.3">20</text><text class="tl" x="-8" y="1107">30</text>
<rect class="g" x="11" y="1147.9" width="25" height="120.1"/><rect class="h" x="43" y="1216.5" width="25" height="51.5"/>
<path class="ax" d="M0,1102V1268H72"/>
<path class="ln" d="M23.5,1135.2L55.5,1218.2M23.5,1146.3L55.5,1229.3M23.5,1154.6L55.5,1201.6"/>
<g class="pt"><circle cx="23.5" cy="1135.2" r="5"/><circle cx="23.5" cy="1146.3" r="5"/><circle cx="23.5" cy="1154.6" r="5"/><circle cx="55.5" cy="1201.6" r="5"/><circle cx="55.5" cy="1218.2" r="5"/><circle cx="55.5" cy="1229.3" r="5"/></g>
<text x="-34" y="1185" text-anchor="middle" transform="rotate(-90 -34 1185)">IL-13+ cells (%)</text>
<text class="pv" x="42" y="1106"><tspan font-style="italic">p</tspan> = 0.0098</text><path class="ln" d="M24,1109H60"/>
<text class="xl" x="28" y="1282" transform="rotate(-40 28 1282)">Vehicle</text><text class="xl" x="60" y="1282" transform="rotate(-40 60 1282)">WWL222</text>
</g>
<g transform="translate(648,0)">
<path class="ax" d="M-5,1268H0M-5,1234.8H0M-5,1201.6H0M-5,1168.4H0M-5,1135.2H0M-5,1102H0"/>
<text class="tl" x="-8" y="1273">0</text><text class="tl" x="-8" y="1239.8">2</text><text class="tl" x="-8" y="1206.6">4</text><text class="tl" x="-8" y="1173.4">6</text><text class="tl" x="-8" y="1140.2">8</text><text class="tl" x="-8" y="1107">10</text>
<rect class="g" x="11" y="1150.1" width="25" height="117.9"/><rect class="h" x="43" y="1173.4" width="25" height="94.6"/>
<path class="ax" d="M0,1102V1268H72"/>
<path class="ln" d="M23.5,1143.5L55.5,1165.1M23.5,1148.5L55.5,1170.1M23.5,1155.1L55.5,1178.4"/>
<g class="pt"><circle cx="23.5" cy="1143.5" r="5"/><circle cx="23.5" cy="1148.5" r="5"/><circle cx="23.5" cy="1155.1" r="5"/><circle cx="55.5" cy="1165.1" r="5"/><circle cx="55.5" cy="1170.1" r="5"/><circle cx="55.5" cy="1178.4" r="5"/></g>
<text x="-35" y="1185" text-anchor="middle" transform="rotate(-90 -35 1185)">IL-13 MFI (x10<tspan font-size="10" dy="-6">3</tspan><tspan dy="6">)</tspan></text>
<text class="pv" x="42" y="1106"><tspan font-style="italic">p</tspan> = 0.0323</text><path class="ln" d="M24,1109H60"/>
<text class="xl" x="28" y="1282" transform="rotate(-40 28 1282)">Vehicle</text><text class="xl" x="60" y="1282" transform="rotate(-40 60 1282)">WWL222</text>
</g>

<!-- ===== l flow ===== -->
<rect class="bx" x="906" y="1102" width="167" height="168"/><rect class="bx" x="1084" y="1102" width="166" height="168"/>
<use xlink:href="#ct" href="#ct" stroke="#a7aeae" transform="translate(985,1166) scale(75,16)"/>
<use xlink:href="#ct" href="#ct" stroke="#4f7fd0" transform="translate(1143,1166) scale(55,16)"/>
<rect class="bx" x="956" y="1124" width="110" height="74"/><rect class="bx" x="1134" y="1124" width="110" height="74"/>
<text x="1066" y="1216" fill="#9a9a9a" text-anchor="end">40.7%</text><text x="1245" y="1216" fill="#3f6dbf" text-anchor="end">25.6%</text>
<g class="sm">
<text x="982" y="1285">10<tspan class="sup" dy="-4">4</tspan></text><text x="1058" y="1285">10<tspan class="sup" dy="-4">5</tspan></text>
<text x="1160" y="1285">10<tspan class="sup" dy="-4">4</tspan></text><text x="1236" y="1285">10<tspan class="sup" dy="-4">5</tspan></text>
</g>
<g font-size="10" text-anchor="end">
<text x="898" y="1129">10<tspan class="sup" dy="-4">6</tspan></text><text x="898" y="1161">10<tspan class="sup" dy="-4">5</tspan></text><text x="898" y="1193">10<tspan class="sup" dy="-4">4</tspan></text><text x="898" y="1225">10<tspan class="sup" dy="-4">3</tspan></text><text x="898" y="1257">10<tspan class="sup" dy="-4">2</tspan></text>
</g>
<text x="872" y="1185" text-anchor="middle" transform="rotate(-90 872 1185)">CD4 - BV785</text>
<text x="952" y="1311">IL-17 - PE</text>
<path class="ln" d="M1040,1305H1238"/><path d="M1238,1301.5L1246,1305L1238,1308.5Z"/>

<g transform="translate(1343,0)">
<path class="ax" d="M-5,1268H0M-5,1234.8H0M-5,1201.6H0M-5,1168.4H0M-5,1135.2H0M-5,1102H0"/>
<text class="tl" x="-8" y="1273">0</text><text class="tl" x="-8" y="1239.8">10</text><text class="tl" x="-8" y="1206.6">20</text><text class="tl" x="-8" y="1173.4">30</text><text class="tl" x="-8" y="1140.2">40</text><text class="tl" x="-8" y="1107">50</text>
<rect class="g" x="11" y="1151.8" width="25" height="116.2"/><rect class="h" x="43" y="1180" width="25" height="88"/>
<path class="ax" d="M0,1102V1268H72"/>
<path class="ln" d="M23.5,1135.2L55.5,1175M23.5,1143.5L55.5,1178.4M23.5,1168.4L55.5,1181.7M23.5,1188.3L55.5,1185"/>
<g class="pt"><circle cx="23.5" cy="1135.2" r="5"/><circle cx="23.5" cy="1143.5" r="5"/><circle cx="23.5" cy="1168.4" r="5"/><circle cx="23.5" cy="1188.3" r="5"/><circle cx="55.5" cy="1175" r="5"/><circle cx="55.5" cy="1178.4" r="5"/><circle cx="55.5" cy="1181.7" r="5"/><circle cx="55.5" cy="1185" r="5"/></g>
<text x="-35" y="1185" text-anchor="middle" transform="rotate(-90 -35 1185)">IL-17+ cells (%)</text>
<text class="pv" x="42" y="1106"><tspan font-style="italic">p</tspan> = 0.0699</text><path class="ln" d="M24,1109H60"/>
<text class="xl" x="28" y="1282" transform="rotate(-40 28 1282)">Vehicle</text><text class="xl" x="60" y="1282" transform="rotate(-40 60 1282)">WWL222</text>
</g>
<g transform="translate(1490,0)">
<path class="ax" d="M-5,1268H0M-5,1234.8H0M-5,1201.6H0M-5,1168.4H0M-5,1135.2H0M-5,1102H0"/>
<text class="tl" x="-8" y="1273">0</text><text class="tl" x="-8" y="1239.8">1</text><text class="tl" x="-8" y="1206.6">2</text><text class="tl" x="-8" y="1173.4">3</text><text class="tl" x="-8" y="1140.2">4</text><text class="tl" x="-8" y="1107">5</text>
<rect class="g" x="11" y="1155.1" width="25" height="112.9"/><rect class="h" x="43" y="1178.4" width="25" height="89.6"/>
<path class="ax" d="M0,1102V1268H72"/>
<path class="ln" d="M23.5,1138.5L55.5,1171.7M23.5,1148.5L55.5,1176.7M23.5,1158.4L55.5,1180M23.5,1175L55.5,1183.3"/>
<g class="pt"><circle cx="23.5" cy="1138.5" r="5"/><circle cx="23.5" cy="1148.5" r="5"/><circle cx="23.5" cy="1158.4" r="5"/><circle cx="23.5" cy="1175" r="5"/><circle cx="55.5" cy="1171.7" r="5"/><circle cx="55.5" cy="1176.7" r="5"/><circle cx="55.5" cy="1180" r="5"/><circle cx="55.5" cy="1183.3" r="5"/></g>
<text x="-32" y="1185" text-anchor="middle" transform="rotate(-90 -32 1185)">IL-17 MFI (x10<tspan font-size="10" dy="-6">3</tspan><tspan dy="6">)</tspan></text>
<text class="pv" x="42" y="1106"><tspan font-style="italic">p</tspan> = 0.0674</text><path class="ln" d="M24,1109H60"/>
<text class="xl" x="28" y="1282" transform="rotate(-40 28 1282)">Vehicle</text><text class="xl" x="60" y="1282" transform="rotate(-40 60 1282)">WWL222</text>
</g>
</svg>
</body></html>
